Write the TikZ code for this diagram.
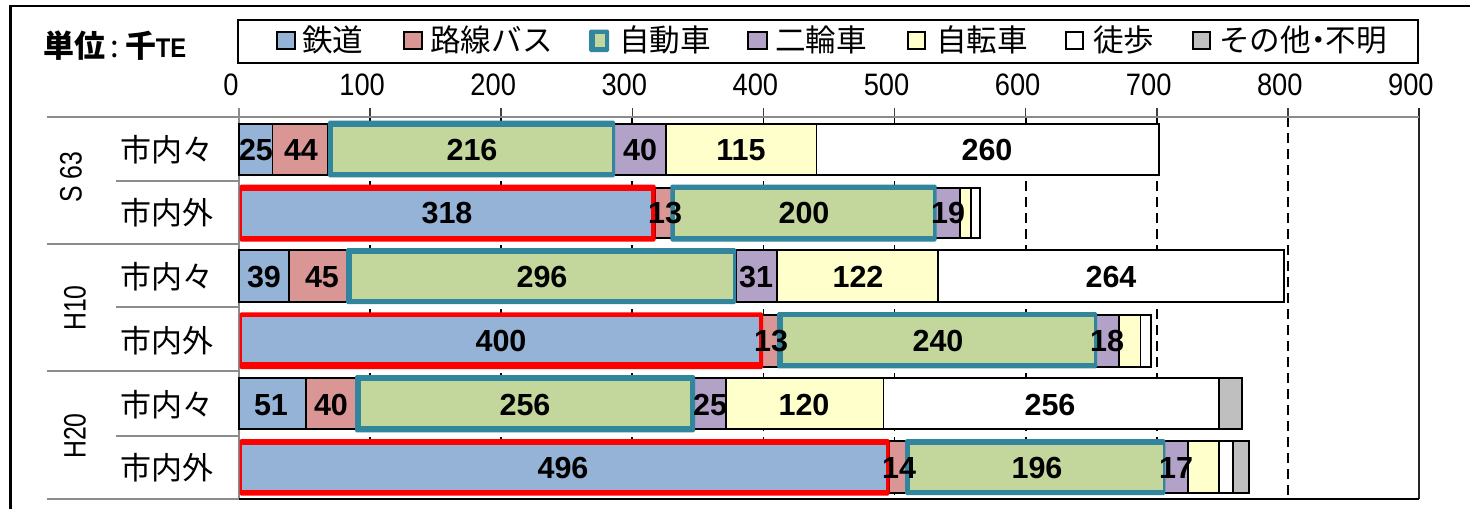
\documentclass[tikz,border=0pt]{standalone}
\usepackage{fontspec}
\setmainfont{Liberation Sans}
\newfontfamily\cjk{Noto Sans CJK JP}
\newfontfamily\narrowf[FakeStretch=0.88]{Liberation Sans}
\newfontfamily\narrowr[FakeStretch=0.8]{Liberation Sans}
\newfontfamily\narrowb[FakeStretch=0.88]{Liberation Sans Bold}
\definecolor{cblue}{HTML}{95B3D7}
\definecolor{cpink}{HTML}{D99694}
\definecolor{cgreen}{HTML}{C3D69B}
\definecolor{cpurple}{HTML}{B3A2C7}
\definecolor{cyellow}{HTML}{FFFFCC}
\definecolor{cgray}{HTML}{BFBFBF}
\definecolor{cteal}{HTML}{31859C}
\definecolor{caxis}{HTML}{8C8C8C}
\tikzset{
  x=1pt,y=-1pt,
  seg/.style={draw=black,line width=1.7pt},
  hlouter/.style={rounded corners=1.5pt},
  sep/.style={draw=caxis,line width=2pt},
  gridl/.style={draw=black,line width=1.8pt,dash pattern=on 10pt off 6pt},
  val/.style={font=\fontsize{30.5}{30.5}\selectfont\bfseries,inner sep=0pt},
  axnum/.style={font=\fontsize{31}{31}\narrowf,inner sep=0pt},
  cat/.style={font=\fontsize{31}{31}\selectfont\cjk,inner sep=0pt,anchor=west},
  leg/.style={font=\fontsize{30.6}{30.6}\selectfont\cjk,inner sep=0pt,anchor=west},
  swatch/.style={draw=black,line width=2pt},
  period/.style={font=\fontsize{31}{31}\narrowr,inner sep=0pt,rotate=90},
}
\begin{document}
\begin{tikzpicture}
\useasboundingbox (0,0) rectangle (1470,509);
\fill[white] (0,0) rectangle (1470,509);
% frame
\coordinate (fa) at (10.5,509); \coordinate (fb) at (10.5,6); \coordinate (fc) at (1470,6);
\draw[line width=2.5pt] (fa) -- (fb) -- (fc);
% title
\node[inner sep=0pt,anchor=west] (unit) at (43,46) {\fontsize{31}{31}\selectfont\cjk\bfseries 単位\kern5pt{\mdseries:}\kern7pt千\kern-1pt\fontsize{27}{27}\narrowb TE};
% legend
\node[draw=black,line width=2.2pt,minimum width=1180pt,minimum height=43pt,inner sep=0pt,anchor=north west] (legend) at (237,19) {};
\foreach \xa/\xb/\tx/\col/\txt in {
  277/295/302/cblue/鉄道,
  404/422/430/cpink/路線バス,
  748/767/775/cpurple/二輪車,
  907.5/925/936/cyellow/自転車,
  1065.5/1083/1093/white/徒歩,
  1193/1210/1219/cgray/{その他\kern-8pt・\kern-8pt不明}}{
  \draw[swatch,fill=\col] (\xa,32) rectangle (\xb,49);
  \node[leg] at (\tx,40) {\txt};
}
\fill[cteal,hlouter] (589,29.5) rectangle (609,52);
\fill[cgreen] (594.5,34) rectangle (605,47);
\node[leg] at (619,40) {自動車};
% grid
\foreach \v in {100,200,...,800}{
  \coordinate (gt) at ({239+\v*1.3111},108);
  \coordinate (gm) at ({239+\v*1.3111},117);
  \coordinate (gb) at ({239+\v*1.3111},499);
  \draw[line width=1.6pt,black!75] (gt) -- (gm);
  \draw[gridl] (gm) -- (gb);
}
\coordinate (g9t) at (1419,108); \coordinate (g9b) at (1419,499);
\draw[line width=1.5pt,black!85] (g9t) -- (g9b);
\foreach \v/\lab in {0/0,1/100,2/200,3/300,4/400,5/500,6/600,7/700,8/800,9/900}{
  \node[axnum] (ax\v) at ({231+\v*131.1},85) {\lab};
}
% axes and separators
\coordinate (a0) at (239,108); \coordinate (a1) at (239,499);
\draw[line width=1.5pt,caxis] (a0) -- (a1);
\coordinate (b0) at (239,499); \coordinate (b1) at (1419,499);
\draw[line width=2.8pt,black] (b0) -- (b1);
\coordinate (c0) at (47,117); \coordinate (c1) at (1419,117);
\draw[sep,line width=2.5pt] (c0) -- (c1);
\foreach \xa/\yy in {116/181,47/244,116/307,47/371,116/436,47/499}{
  \coordinate (sa) at (\xa,\yy); \coordinate (sb) at (239,\yy);
  \draw[sep] (sa) -- (sb);
}
% plain segments
\foreach \ya/\yb/\list in {
 124/175/{239/272.4/cblue,272.4/328/cpink,614/666/cpurple,666/816.6/cyellow,816.6/1159/white},
 188/238/{655/672/cpink,935.6/960/cpurple,960/971/cyellow,971/980/white},
 250/302/{239/289/cblue,289/348/cpink,736/777/cpurple,777/938/cyellow,938/1284/white},
 315/367/{762/780/cpink,1096/1119/cpurple,1119/1140.5/cyellow,1140.5/1151/white},
 378/429/{239/305.7/cblue,305.7/357/cpink,693/726/cpurple,726/883.6/cyellow,883.6/1219/white,1219/1242/cgray},
 441/493/{889/907.5/cpink,1164.4/1188/cpurple,1188/1219/cyellow,1219/1233/white,1233/1249/cgray}}{
  \foreach \xa/\xb/\col in \list {
    \draw[seg,fill=\col] (\xa,\ya) rectangle (\xb,\yb);
  }
}
% highlighted segments: outer x0/y0/x1/y1, inner x0/y0/x1/y1
\foreach \a/\b/\c/\d/\e/\f/\g/\h in {
 239.5/184.5/655.5/241.5/241.5/191/651/236,
 239.5/312.3/763/369/241.5/317.3/759/362.3,
 239.5/439/889.5/495.7/241.5/445/886/490}{
  \fill[red,hlouter] (\a,\b) rectangle (\c,\d);
  \fill[cblue] (\e,\f) rectangle (\g,\h);
}
\foreach \a/\b/\c/\d/\e/\f/\g/\h in {
 328/120.7/615/177.3/333/126.7/612/172,
 670.4/184.5/936.6/241.5/675/190/933/236,
 346/248/736/304/351.6/254/733/299,
 777/312/1097/368.3/783/317.3/1094/363,
 355/375/695/432.3/360.5/381.3/690/426,
 905/439/1165.4/495/910/445/1162.6/490}{
  \fill[cteal,hlouter] (\a,\b) rectangle (\c,\d);
  \fill[cgreen] (\e,\f) rectangle (\g,\h);
}
% values
\foreach \xx/\yy/\txt in {
 256/150/25,301/150/44,472/150/216,640/150/40,741/150/115,987/150/260,
 447/213/318,665/213/13,804/213/200,948/213/19,
 264/277/39,322/277/45,542/277/296,756/277/31,858/277/122,1111/277/264,
 501/341/400,771/341/13,938/341/240,1107/341/18,
 271/405/51,331/405/40,525/405/256,710/405/25,804/405/120,1050/405/256,
 563/468/496,899/468/14,1037/468/196,1176/468/17}{
  \node[val] at (\xx,\yy) {\txt};
}
% categories
\foreach \yy/\txt in {150/市内々,213/市内外,277/市内々,341/市内外,405/市内々,468/市内外}{
  \node[cat] at (120,\yy) {\txt};
}
\node[period] (ps) at (71,177) {S 63};
\node[period] (ph) at (75,308) {H10};
\node[period] (pi) at (75,436) {H20};
\end{tikzpicture}
\end{document}
